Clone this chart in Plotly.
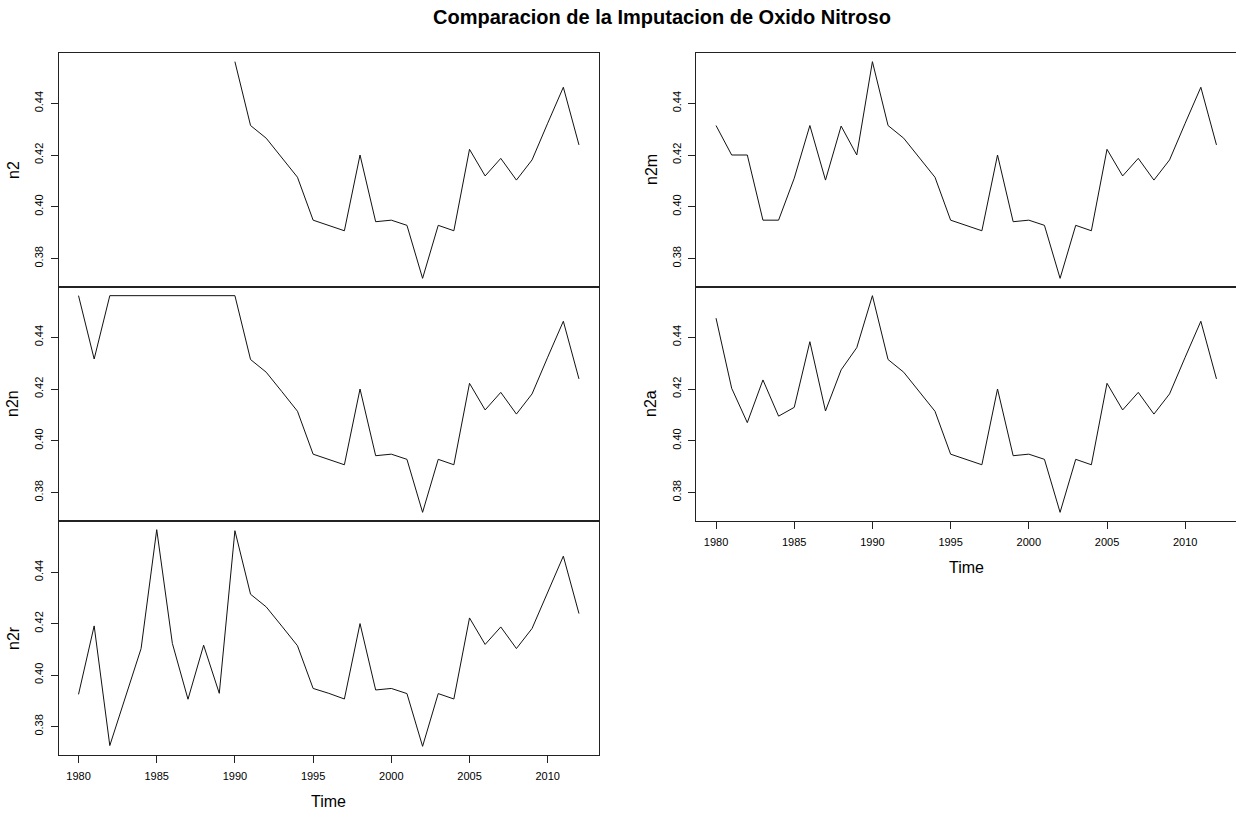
import plotly.graph_objects as go

years = list(range(1980, 2013))

# common tail 1991-2012
tail = [0.4314, 0.4265, 0.4190, 0.4114, 0.3948, 0.3929, 0.3907, 0.4200, 0.3942,
        0.3948, 0.3928, 0.3723, 0.3928, 0.3907, 0.4222, 0.4119, 0.4187, 0.4103,
        0.4181, 0.4323, 0.4462, 0.4239]

n2 = [None] * 10 + [0.4561] + tail
n2m = [0.4314, 0.4200, 0.4200, 0.3948, 0.3948, 0.4110, 0.4314, 0.4103, 0.4312,
       0.4200, 0.4561] + tail
n2n = [0.4561, 0.4316, 0.4561, 0.4561, 0.4561, 0.4561, 0.4561, 0.4561, 0.4561,
       0.4561, 0.4561] + tail
n2a = [0.4474, 0.4203, 0.4070, 0.4235, 0.4095, 0.4129, 0.4383, 0.4115, 0.4274,
       0.4360, 0.4561] + tail
n2r = [0.3925, 0.4191, 0.3726, 0.3915, 0.4103, 0.4565, 0.4123, 0.3906, 0.4116,
       0.3929, 0.4561] + tail

y_ticks = [0.38, 0.40, 0.42, 0.44]
x_ticks = [1980, 1985, 1990, 1995, 2000, 2005, 2010]

title_text = "Comparacion de la Imputacion de Oxido Nitroso"

W, H = 1236, 813
FONT = "Liberation Sans, Arial, sans-serif"

def px_x(p):
    return min(p / W, 1.0)

def px_y(p):
    return 1 - p / H

# panel definitions: (name, values, column, row)
panels = [
    ("n2", n2, 0, 0),
    ("n2n", n2n, 0, 1),
    ("n2r", n2r, 0, 2),
    ("n2m", n2m, 1, 0),
    ("n2a", n2a, 1, 1),
]

col_x = [(58.5, 599), (696, 1236.5)]
row_y = [(53, 287), (287, 521), (521, 755)]
title_x = [13, 651]

xr_pad = (years[-1] - years[0]) * 0.04
x_range = [years[0] - xr_pad, years[-1] + xr_pad]

fig = go.Figure()
layout = dict(
    width=W, height=H,
    margin=dict(l=0, r=0, t=0, b=0),
    paper_bgcolor="white", plot_bgcolor="white",
    showlegend=False,
    font=dict(family=FONT, color="black"),
    annotations=[],
)

last_row = {0: 2, 1: 1}

for i, (name, vals, c, r) in enumerate(panels):
    idx = "" if i == 0 else str(i + 1)
    xa = "xaxis" + idx
    ya = "yaxis" + idx
    vv = [v for v in vals if v is not None]
    lo, hi = min(vv), max(vv)
    pad = (hi - lo) * 0.04
    fig.add_trace(go.Scatter(
        x=years, y=vals, mode="lines",
        line=dict(color="#111111", width=1),
        xaxis="x" + idx, yaxis="y" + idx,
        connectgaps=False, hoverinfo="skip",
    ))
    is_bottom = (r == last_row[c])
    xl, xr = col_x[c]
    # keep R's 4% padding scale; extend the range if the domain is clipped
    scale = (xr - xl) / (x_range[1] - x_range[0])
    dom_r = min(xr, W)
    xrange = [x_range[0], x_range[0] + (dom_r - xl) / scale]
    layout[xa] = dict(
        domain=[px_x(xl), px_x(dom_r)],
        anchor="y" + idx,
        range=xrange,
        showgrid=False, zeroline=False,
        showline=True, mirror=True, linecolor="#222222", linewidth=1,
        tickmode="array", tickvals=x_ticks if is_bottom else [],
        ticks="outside" if is_bottom else "", ticklen=7, tickcolor="#222222",
        showticklabels=is_bottom, ticklabelstandoff=4,
        tickfont=dict(size=11, family=FONT, color="black"),
    )
    layout[ya] = dict(
        domain=[px_y(row_y[r][1]), px_y(row_y[r][0])],
        anchor="x" + idx,
        range=[lo - pad, hi + pad],
        showgrid=False, zeroline=False,
        showline=True, mirror=True, linecolor="#222222", linewidth=1,
        tickmode="array", tickvals=y_ticks,
        ticktext=["%.2f" % t for t in y_ticks],
        ticks="outside", ticklen=7, tickcolor="#222222",
        tickangle=-90, ticklabelstandoff=3,
        tickfont=dict(size=11, family=FONT, color="black"),
    )
    layout["annotations"].append(dict(
        text=name, xref="paper", yref="paper",
        x=px_x(title_x[c]), y=px_y((row_y[r][0] + row_y[r][1]) / 2),
        xanchor="center", yanchor="middle", textangle=-90, showarrow=False,
        font=dict(size=16, family=FONT, color="black"),
    ))
    if is_bottom:
        layout["annotations"].append(dict(
            text="Time", xref="paper", yref="paper",
            x=px_x((xl + xr) / 2),
            y=px_y(row_y[r][1] + 46),
            xanchor="center", yanchor="middle", showarrow=False,
            font=dict(size=16, family=FONT, color="black"),
        ))

layout["annotations"].append(dict(
    text="<b>" + title_text + "</b>", xref="paper", yref="paper",
    x=px_x(662), y=px_y(17), xanchor="center", yanchor="middle", showarrow=False,
    font=dict(size=20, family=FONT, color="black"),
))

fig.update_layout(**layout)
fig.write_html("out.html")
